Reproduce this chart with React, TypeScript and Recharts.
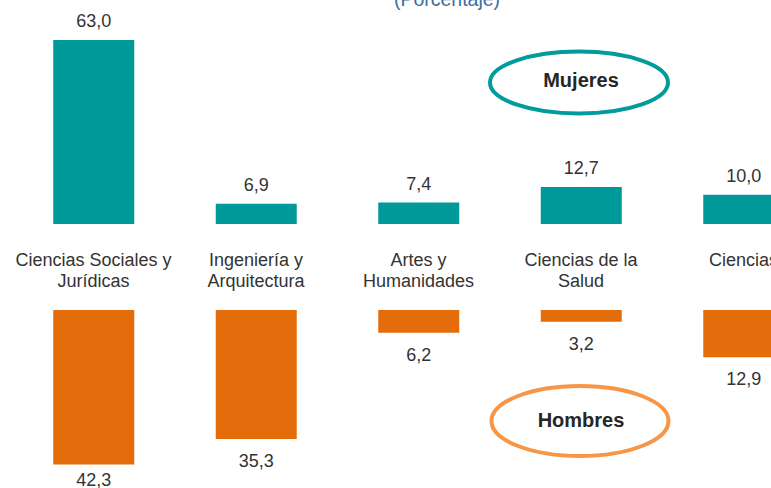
import React from "react";
import { BarChart, Bar, XAxis, YAxis, LabelList } from "recharts";

const categories: string[][] = [
  ["Ciencias Sociales y", "Jurídicas"],
  ["Ingeniería y", "Arquitectura"],
  ["Artes y", "Humanidades"],
  ["Ciencias de la", "Salud"],
  ["Ciencias"],
];
const mujeres: number[] = [63.0, 6.9, 7.4, 12.7, 10.0];
const hombres: number[] = [42.3, 35.3, 6.2, 3.2, 12.9];

const data = categories.map((c, i) => ({
  name: c.join(" "),
  idx: i,
  mujeres: mujeres[i],
  hombres: hombres[i],
}));

const FONT = "'Liberation Sans', Arial, sans-serif";
const TEAL = "#009999";
const ORANGE = "#E46C0A";
const FS = 18;
const fmt = (v: number) => v.toFixed(1).replace(".", ",");

const CategoryTick = (props: any) => {
  const { x, payload } = props;
  const lines = categories[payload.index] || [String(payload.value)];
  return (
    <text x={x} y={266} textAnchor="middle" fill="#333333" fontSize={FS} fontFamily={FONT}>
      {lines.map((l, i) => (
        <tspan key={i} x={x} y={266 + i * 20.5}>
          {l}
        </tspan>
      ))}
    </text>
  );
};

const TopLabel = (props: any) => {
  const { x, y, width, value } = props;
  return (
    <text x={x + width / 2} y={y - 12.5} textAnchor="middle" fill="#333333" fontSize={FS} fontFamily={FONT}>
      {fmt(value)}
    </text>
  );
};

const BottomLabel = (props: any) => {
  const { x, y, width, height, value } = props;
  const bottom = Math.max(y, y + height);
  const base = Math.min(bottom + 28, 176);
  return (
    <text x={x + width / 2} y={base} textAnchor="middle" fill="#333333" fontSize={FS} fontFamily={FONT}>
      {fmt(value)}
    </text>
  );
};

export default function App() {
  const W = 830;
  const ml = 12.25;
  const mr = W - ml - 812.5;
  return (
    <div
      style={{
        position: "fixed",
        left: 0,
        top: 0,
        width: 771,
        height: 488,
        overflow: "hidden",
        background: "#ffffff",
        fontFamily: FONT,
      }}
    >
      <div style={{ position: "absolute", left: 0, top: 0 }}>
        <BarChart
          width={W}
          height={310}
          data={data}
          margin={{ top: 224 - 70 * 2.921, right: mr, bottom: 0, left: ml }}
          barSize={81}
        >
          <XAxis
            dataKey="name"
            axisLine={false}
            tickLine={false}
            height={86}
            interval={0}
            tick={<CategoryTick />}
          />
          <YAxis hide domain={[0, 70]} />
          <Bar dataKey="mujeres" fill={TEAL} isAnimationActive={false}>
            <LabelList dataKey="mujeres" content={<TopLabel />} />
          </Bar>
        </BarChart>
      </div>
      <div style={{ position: "absolute", left: 0, top: 310 }}>
        <BarChart
          width={W}
          height={178}
          data={data}
          margin={{ top: 0, right: mr, bottom: 178 - 45 * 3.655, left: ml }}
          barSize={81}
        >
          <XAxis dataKey="name" hide />
          <YAxis hide reversed domain={[0, 45]} />
          <Bar dataKey="hombres" fill={ORANGE} isAnimationActive={false}>
            <LabelList dataKey="hombres" content={<BottomLabel />} />
          </Bar>
        </BarChart>
      </div>
      <svg
        width={771}
        height={488}
        style={{ position: "absolute", left: 0, top: 0, pointerEvents: "none" }}
      >
        <text x={447} y={6} textAnchor="middle" fill="#3B6E9E" fontSize={19.5} fontFamily={FONT}>
          (Porcentaje)
        </text>
        <ellipse cx={579} cy={82.5} rx={89} ry={31} fill="none" stroke="#009B9B" strokeWidth={4} />
        <text x={581} y={87} textAnchor="middle" fill="#262626" fontSize={20} fontWeight="bold" fontFamily={FONT}>
          Mujeres
        </text>
        <ellipse cx={580} cy={421} rx={88.5} ry={35} fill="none" stroke="#F79646" strokeWidth={4} />
        <text x={581} y={427} textAnchor="middle" fill="#262626" fontSize={20} fontWeight="bold" fontFamily={FONT}>
          Hombres
        </text>
      </svg>
    </div>
  );
}
